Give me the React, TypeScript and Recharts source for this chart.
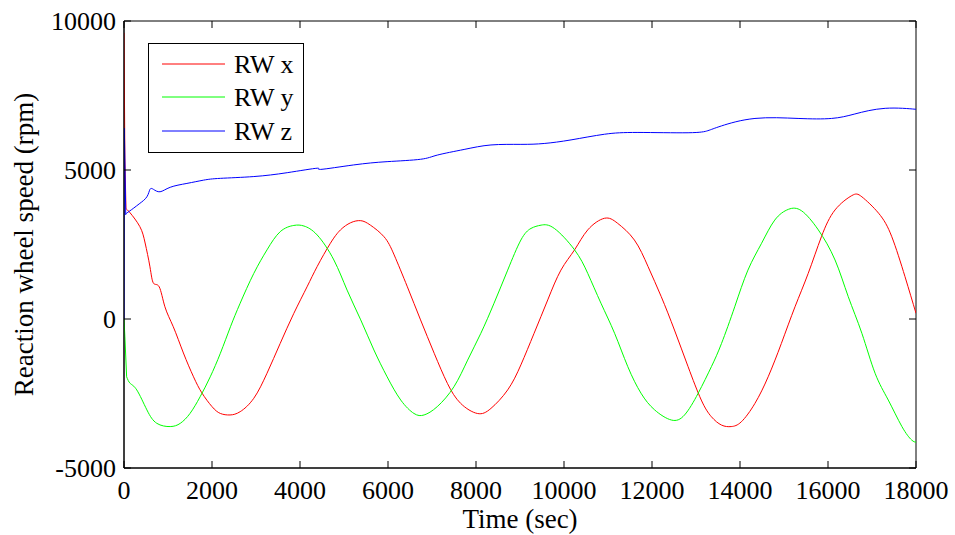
import React from "react";
import { LineChart, Line, XAxis, YAxis, ReferenceArea, Legend } from "recharts";

// ---- data ----
const xTicks = [0, 2000, 4000, 6000, 8000, 10000, 12000, 14000, 16000, 18000];
const yTicks = [-5000, 0, 5000, 10000];

const seriesNames = ["RW x", "RW y", "RW z"];
const seriesColors = ["#ff0000", "#00ff00", "#0000ff"];

// start-up transients (first seconds)
const rwxStartTime = [0, 20, 45];
const rwxStartSpeed = [9600, 5400, 3700];
const rwyStartTime = [0, 20, 60];
const rwyStartSpeed = [0, -600, -1940];
const rwzStartTime = [0, 8, 40];
const rwzStartSpeed = [0, 6400, 3500];

// main responses
const rwxTime = [45, 140, 360, 480, 590, 670, 800, 930, 1120, 1350, 1580, 1770, 2000, 2190, 2410, 2640, 2950, 3250, 3550, 3860, 4160, 4390, 4690, 4920, 5150, 5380, 5600, 5910, 6140, 6440, 6740, 7050, 7350, 7650, 8030, 8340, 8720, 9020, 9320, 9630, 9930, 10240, 10540, 10920, 11220, 11600, 11910, 12210, 12510, 12820, 13120, 13350, 13580, 13800, 14030, 14340, 14640, 14940, 15250, 15550, 15850, 16160, 16540, 16770, 17150, 17450, 17750, 18000];
const rwxSpeed = [3700, 3560, 3100, 2550, 1750, 1200, 1080, 410, -260, -1140, -1940, -2480, -2940, -3170, -3220, -3110, -2660, -1820, -820, 190, 1080, 1760, 2540, 2990, 3230, 3300, 3150, 2760, 2150, 1080, -30, -1150, -2160, -2830, -3170, -3000, -2380, -1540, -480, 640, 1640, 2320, 2990, 3380, 3210, 2650, 1760, 750, -370, -1600, -2720, -3280, -3560, -3610, -3450, -2830, -1940, -820, 410, 1530, 2760, 3660, 4140, 4100, 3550, 2760, 1420, 190];

const rwyTime = [60, 140, 290, 520, 745, 1050, 1280, 1500, 1730, 1960, 2190, 2420, 2640, 2950, 3250, 3550, 3860, 4090, 4390, 4770, 5070, 5380, 5680, 5980, 6290, 6590, 6820, 7120, 7500, 7810, 8110, 8410, 8720, 9020, 9250, 9480, 9780, 10240, 10540, 10840, 11150, 11450, 11750, 12060, 12440, 12740, 13050, 13350, 13580, 13880, 14180, 14490, 14790, 15100, 15400, 15780, 16160, 16460, 16770, 17070, 17370, 17680, 17900, 18000];
const rwySpeed = [-1940, -2160, -2380, -3050, -3500, -3610, -3500, -3170, -2610, -1940, -1150, -260, 530, 1530, 2320, 2930, 3140, 3120, 2820, 1980, 970, -30, -1040, -1940, -2720, -3170, -3220, -2940, -2270, -1380, -480, 530, 1640, 2650, 3040, 3150, 3040, 2320, 1530, 530, -480, -1600, -2490, -3050, -3390, -3220, -2490, -1600, -820, 410, 1640, 2540, 3320, 3680, 3630, 2990, 1980, 750, -480, -1820, -2720, -3610, -4060, -4130];

const rwzTime = [40, 60, 210, 360, 520, 590, 670, 820, 1050, 1430, 1810, 2190, 2950, 3710, 4390, 4470, 5220, 5980, 6740, 7120, 7730, 8340, 9020, 9550, 10160, 10920, 11680, 12820, 13270, 13580, 14340, 15320, 16080, 16610, 17300, 17980, 18000];
const rwzSpeed = [3500, 3550, 3710, 3880, 4100, 4350, 4350, 4270, 4420, 4550, 4660, 4720, 4780, 4910, 5060, 5020, 5170, 5280, 5360, 5500, 5690, 5840, 5860, 5890, 6010, 6200, 6260, 6250, 6320, 6480, 6730, 6730, 6730, 6880, 7070, 7040, 7040];

const toRows = (ts: number[], vs: number[]) => ts.map((t, i) => ({ t, v: vs[i] }));
const startData = [
  toRows(rwxStartTime, rwxStartSpeed),
  toRows(rwyStartTime, rwyStartSpeed),
  toRows(rwzStartTime, rwzStartSpeed),
];
const seriesData = [toRows(rwxTime, rwxSpeed), toRows(rwyTime, rwySpeed), toRows(rwzTime, rwzSpeed)];

// ---- layout ----
const W = 955;
const H = 535;
const PL = 124;
const PT = 21;
const PR = 916;
const PB = 468;
const FONT = "'Liberation Serif', 'Times New Roman', serif";
const TICK = 7;

const XTick = (props: any) => {
  const { x, payload } = props;
  return (
    <g>
      <line x1={x} x2={x} y1={PB} y2={PB - TICK} stroke="#000" strokeWidth={1} />
      <line x1={x} x2={x} y1={PT} y2={PT + TICK} stroke="#000" strokeWidth={1} />
      <text x={x} y={PB + 31} textAnchor="middle" fontFamily={FONT} fontSize={26} fill="#000">
        {payload.value}
      </text>
    </g>
  );
};

const YTick = (props: any) => {
  const { y, payload } = props;
  return (
    <g>
      <line x1={PL} x2={PL + TICK} y1={y} y2={y} stroke="#000" strokeWidth={1} />
      <line x1={PR - TICK} x2={PR} y1={y} y2={y} stroke="#000" strokeWidth={1} />
      <text x={PL - 8} y={y + 9} textAnchor="end" fontFamily={FONT} fontSize={26} fill="#000">
        {payload.value}
      </text>
    </g>
  );
};

const XTitle = () => (
  <text x={(PL + PR) / 2} y={528} textAnchor="middle" fontFamily={FONT} fontSize={27} fill="#000">
    Time (sec)
  </text>
);

const YTitle = () => {
  const cx = 33;
  const cy = (PT + PB) / 2;
  return (
    <text
      x={cx}
      y={cy}
      textAnchor="middle"
      fontFamily={FONT}
      fontSize={27}
      fill="#000"
      transform={`rotate(-90, ${cx}, ${cy})`}
    >
      Reaction wheel speed (rpm)
    </text>
  );
};

const LegendBox = () => {
  const rowsLine = [21, 54, 88];
  return (
    <svg width={156} height={110} style={{ display: "block" }}>
      <rect x={0.5} y={0.5} width={155} height={109} fill="#fff" stroke="#000" strokeWidth={1} />
      {seriesNames.map((name, i) => (
        <g key={name}>
          <line x1={14} x2={77} y1={rowsLine[i]} y2={rowsLine[i]} stroke={seriesColors[i]} strokeWidth={1} />
          <text x={86} y={rowsLine[i] + 9} fontFamily={FONT} fontSize={26} fill="#000">
            {name}
          </text>
        </g>
      ))}
    </svg>
  );
};

export default function App() {
  return (
    <div style={{ position: "absolute", left: 0, top: 0, width: W, height: H, background: "#fff" }}>
      <LineChart
        width={W}
        height={H}
        margin={{ top: PT, right: W - PR, bottom: 0, left: 0 }}
      >
        <XAxis
          dataKey="t"
          type="number"
          domain={[0, 18000]}
          ticks={xTicks}
          interval={0}
          allowDataOverflow
          height={H - PB}
          tickLine={false}
          axisLine={{ stroke: "#000" }}
          tick={<XTick />}
          label={<XTitle />}
        />
        <YAxis
          type="number"
          domain={[-5000, 10000]}
          ticks={yTicks}
          interval={0}
          allowDataOverflow
          width={PL}
          tickLine={false}
          axisLine={{ stroke: "#000" }}
          tick={<YTick />}
          label={<YTitle />}
        />
        <ReferenceArea
          x1={0}
          x2={18000}
          y1={-5000}
          y2={10000}
          fill="none"
          fillOpacity={0}
          stroke="#000"
          strokeWidth={1}
          strokeOpacity={1}
          ifOverflow="visible"
        />
        {seriesData.map((d, i) => (
          <React.Fragment key={seriesNames[i]}>
            <Line
              data={startData[i]}
              dataKey="v"
              name={seriesNames[i] + " start"}
              legendType="none"
              type="linear"
              stroke={seriesColors[i]}
              strokeWidth={1}
              dot={false}
              activeDot={false}
              isAnimationActive={false}
            />
            <Line
              data={d}
              dataKey="v"
              name={seriesNames[i]}
              type="natural"
              stroke={seriesColors[i]}
              strokeWidth={1}
              dot={false}
              activeDot={false}
              isAnimationActive={false}
            />
          </React.Fragment>
        ))}
        <Legend
          layout="vertical"
          align="center"
          verticalAlign="middle"
          content={<LegendBox />}
          wrapperStyle={{ position: "absolute", left: 148, top: 43, width: 156, height: 110 }}
        />
      </LineChart>
    </div>
  );
}
